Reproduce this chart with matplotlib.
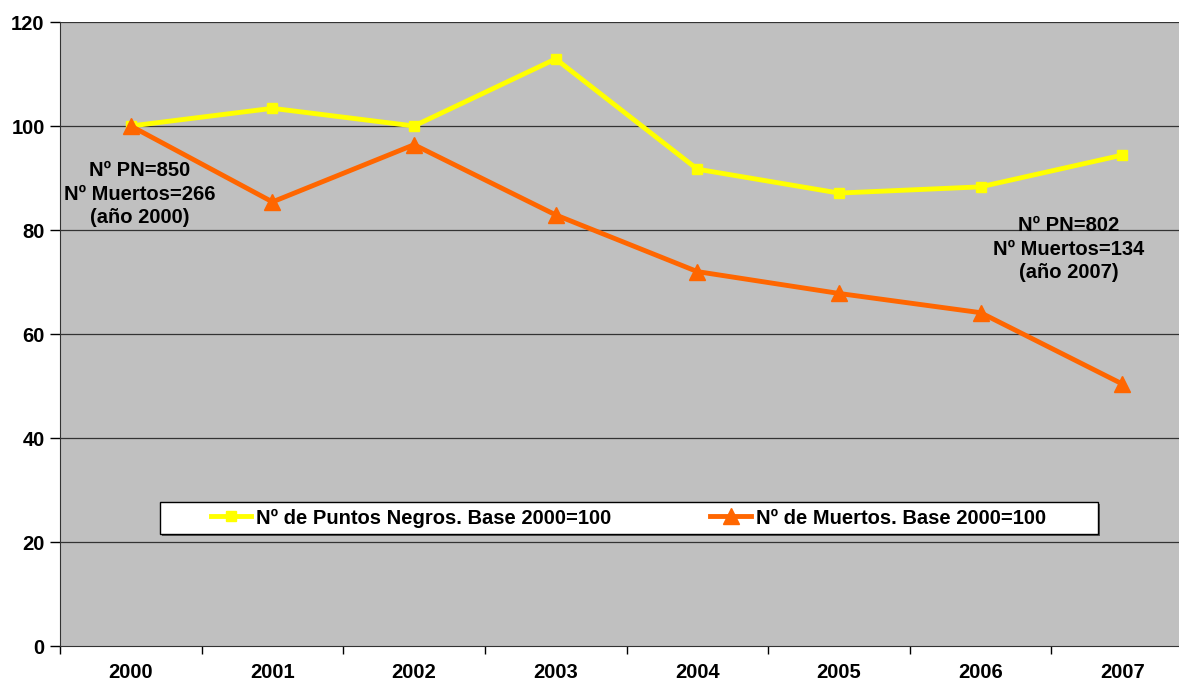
import matplotlib.pyplot as plt
from matplotlib.patches import Rectangle
import numpy as np

years = ['2000', '2001', '2002', '2003', '2004', '2005', '2006', '2007']
puntosNegros = [100, 103.4, 100, 112.9, 91.7, 87.1, 88.3, 94.4]
muertos = [100, 85.4, 96.4, 82.9, 72.0, 67.8, 64.1, 50.4]
yTicks = [0, 20, 40, 60, 80, 100, 120]

plt.rcParams['font.family'] = ['Liberation Sans', 'DejaVu Sans']
plt.rcParams['font.weight'] = 'bold'

fig = plt.figure(figsize=(11.79, 6.84), dpi=100)
# plot area runs past the right edge of the picture, as in the original
ax = fig.add_axes([60 / 1179, 38 / 684, 1133 / 1179, 624 / 684])
ax.set_facecolor('#C0C0C0')

x = np.arange(len(years))
ax.plot(x, puntosNegros, color='#FFFF00', lw=3.5, marker='s', ms=7.5,
        label='Nº de Puntos Negros. Base 2000=100', zorder=3)
ax.plot(x, muertos, color='#FF6600', lw=3.5, marker='^', ms=12,
        label='Nº de Muertos. Base 2000=100', zorder=4)

ax.set_xlim(-0.5, len(years) - 0.5)
ax.set_ylim(0, 120)
ax.set_yticks(yTicks)
ax.set_yticklabels([str(v) for v in yTicks], fontsize=14.5, fontweight='bold')
ax.set_xticks(x)
ax.set_xticklabels(years, fontsize=14.5, fontweight='bold')
ax.set_xticks(np.arange(-0.5, len(years), 1), minor=True)
ax.tick_params(axis='x', which='major', length=0, pad=12)
ax.tick_params(axis='x', which='minor', length=6, width=1, direction='out')
ax.tick_params(axis='y', length=7, width=1, direction='out', pad=4)

for v in yTicks[1:]:
    ax.axhline(v, color='#333333', lw=0.9, zorder=1)

for side in ['top', 'right']:
    ax.spines[side].set_visible(False)
ax.spines['left'].set_color('#333333')
ax.spines['bottom'].set_color('#333333')

ax.text(0.06, 86.9, 'Nº PN=850\nNº Muertos=266\n(año 2000)', ha='center', va='center',
        fontsize=14.5, fontweight='bold', linespacing=1.3)
ax.text(6.62, 76.3, 'Nº PN=802\nNº Muertos=134\n(año 2007)', ha='center', va='center',
        fontsize=14.5, fontweight='bold', linespacing=1.3)

# legend box: white with a thin shadow, wider than the entries
bx, by, bw, bh = 100 / 1133, 112 / 624, 938 / 1133, 32 / 624
ax.add_patch(Rectangle((bx + 0.002, by - 0.004), bw, bh, transform=ax.transAxes,
                       facecolor='#555555', edgecolor='none', zorder=5))
ax.add_patch(Rectangle((bx, by), bw, bh, transform=ax.transAxes,
                       facecolor='white', edgecolor='black', lw=1, zorder=6))
leg = ax.legend(loc='center', bbox_to_anchor=(568.5 / 1133, by + bh / 2), ncol=2,
                fontsize=14.5, frameon=False, columnspacing=4.9,
                handlelength=2.0, borderpad=0.2, handletextpad=0.25)
leg.set_zorder(7)
for t in leg.get_texts():
    t.set_fontweight('bold')

fig.savefig('out.png', dpi=100)
